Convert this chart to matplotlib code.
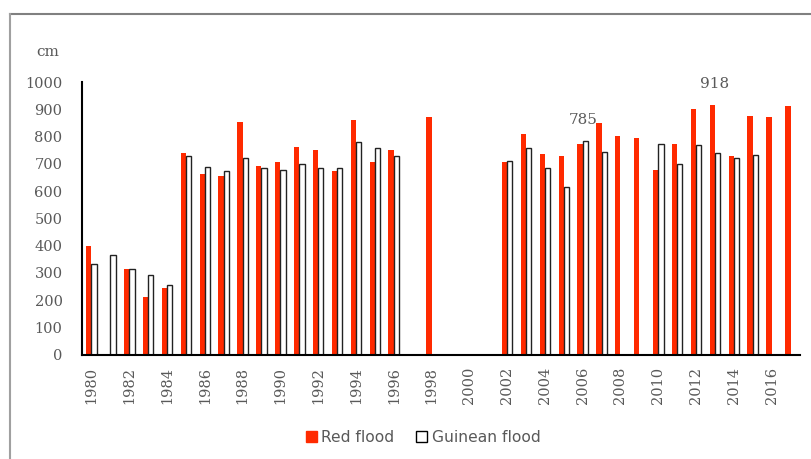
import matplotlib
matplotlib.use('Agg')
import matplotlib.pyplot as plt
from matplotlib.lines import Line2D
from matplotlib.patches import Patch
import numpy as np

nan = np.nan
years = list(range(1980, 2018))
red_flood = [398, nan, 313, 210, 243, 741, 664, 657, 853, 694,
             706, 761, 750, 675, 860, 706, 750, nan, 871, nan,
             nan, nan, 709, 809, 735, 730, 772, 849, 801, 794,
             677, 772, 901, 918, 728, 875, 871, 912]
guinean_flood = [332, 364, 313, 291, 254, 730, 690, 675, 723, 686,
                 679, 701, 686, 686, 782, 760, 730, nan, nan, nan,
                 nan, nan, 712, 760, 686, 615, 785, 745, nan, nan,
                 774, 701, 771, 741, 723, 734, nan, nan]
notes = [(2006, 785), (2013, 918)]

TXT = '#595959'
RED = '#ff2a00'

fig = plt.figure(figsize=(8.12, 4.59), dpi=100)
ax = fig.add_axes([82 / 812, 1 - 354.5 / 459, (800 - 82) / 812, (354.5 - 82.3) / 459])

x = np.arange(len(years))
w = 0.28
ax.bar(x - w / 2, red_flood, width=w, color=RED, linewidth=0)
ax.bar(x + w / 2, guinean_flood, width=w, facecolor='white', edgecolor='#222222', linewidth=1.0)

for yr, val in notes:
    i = years.index(yr)
    ax.annotate(str(val), (i, val), xytext=(0, 10), textcoords='offset points',
                ha='center', va='bottom', fontsize=11, color=TXT, family='DejaVu Serif')

ax.set_xlim(-0.5, len(years) - 0.5)
ax.set_ylim(0, 1000)
ax.set_yticks(range(0, 1001, 100))
ax.set_xticks(x[::2])
ax.set_xticklabels([str(y) for y in years[::2]], rotation=90)
ax.tick_params(axis='both', length=0, colors=TXT, labelsize=10.5)
ax.tick_params(axis='y', pad=14)
ax.tick_params(axis='x', pad=9)
for lab in ax.get_xticklabels() + ax.get_yticklabels():
    lab.set_family('DejaVu Serif')
for s in ['top', 'right']:
    ax.spines[s].set_visible(False)
for s in ['left', 'bottom']:
    ax.spines[s].set_linewidth(1.5)
    ax.spines[s].set_color('black')

fig.text(48 / 812, 1 - 52 / 459, 'cm', ha='center', va='center', fontsize=11,
         color=TXT, family='DejaVu Serif')

handles = [Patch(facecolor=RED, edgecolor=RED),
           Patch(facecolor='white', edgecolor='black')]
fig.legend(handles, ['Red flood', 'Guinean flood'], loc='center',
           bbox_to_anchor=(423 / 812, 1 - 437 / 459), ncol=2, frameon=False,
           fontsize=11.2, handlelength=0.7, handleheight=0.7, handletextpad=0.3,
           columnspacing=1.4, labelcolor=TXT)

# outer frame
fig.add_artist(Line2D([10 / 812, 1], [1 - 14 / 459, 1 - 14 / 459], color='#808080', lw=1.5))
fig.add_artist(Line2D([10 / 812, 10 / 812], [0, 1 - 14 / 459], color='#a0a0a0', lw=1.5))

fig.savefig('out.png', dpi=100)
